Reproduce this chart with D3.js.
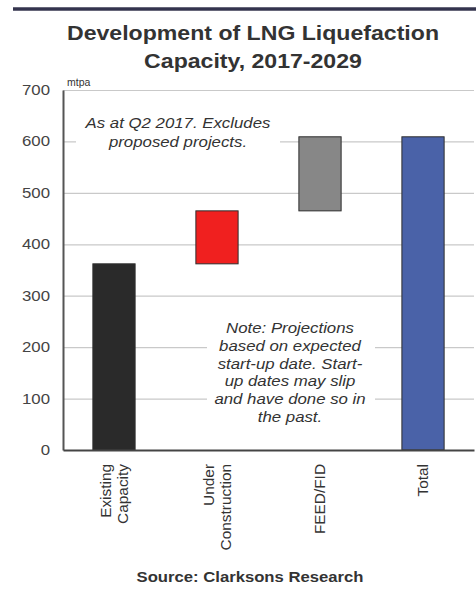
<!DOCTYPE html>
<html>
<head>
<meta charset="utf-8">
<script src="https://cdn.jsdelivr.net/npm/d3@7"></script>
<style>
  html, body { margin: 0; padding: 0; background: #ffffff; }
  svg { display: block; }
  text { font-family: "Liberation Sans", Arial, Helvetica, sans-serif; }
</style>
</head>
<body>
<svg id="chart" width="476" height="590"></svg>
<script>
// ---- data ----
const categories = ["Existing Capacity", "Under Construction", "FEED/FID", "Total"];
const labelLines = [["Existing", "Capacity"], ["Under", "Construction"], ["FEED/FID"], ["Total"]];
const barStart = [0, 362, 465, 0];
const barEnd = [362, 465, 609, 609];
const barColors = ["#2a2a2a", "#f0201f", "#878787", "#4a62a8"];
const yTicks = [0, 100, 200, 300, 400, 500, 600, 700];
const titleLines = ["Development of LNG Liquefaction", "Capacity, 2017-2029"];
const note1 = ["As at Q2 2017. Excludes", "proposed projects."];
const note2 = ["Note: Projections", "based on expected", "start-up date. Start-", "up dates may slip", "and have done so in", "the past."];
const unitLabel = "mtpa";
const sourceText = "Source: Clarksons Research";

// ---- layout ----
const svg = d3.select("#chart");
const L = 63, R = 474, T = 90, B = 450;

const y = d3.scaleLinear().domain([0, 700]).range([B, T]);
const x = d3.scaleBand().domain(categories).range([L, R]).paddingInner(0.59).paddingOuter(0.29);

// top rule
svg.append("line").attr("x1", 13).attr("x2", 476).attr("y1", 9).attr("y2", 9)
  .attr("stroke", "#34344e").attr("stroke-width", 3.5);

// title
titleLines.forEach((t, i) => {
  svg.append("text")
    .attr("transform", `translate(253,${40 + i * 28}) scale(1.1,1)`)
    .attr("text-anchor", "middle")
    .attr("font-size", 21).attr("font-weight", "bold").attr("fill", "#333")
    .text(t);
});

// gridlines
const grid = svg.append("g").attr("transform", `translate(${L},0)`)
  .call(d3.axisLeft(y).tickValues(yTicks.filter(v => v > 0)).tickSize(-(R - L)).tickFormat(""));
grid.select(".domain").remove();
grid.selectAll(".tick line").attr("stroke", "#c9c9c9").attr("stroke-width", 1.2);

// annotation background boxes
svg.append("rect").attr("x", 76).attr("y", 108).attr("width", 204).attr("height", 52).attr("fill", "#fff");
svg.append("rect").attr("x", 207).attr("y", 312).attr("width", 168).attr("height", 118).attr("fill", "#fff");

// bars
svg.append("g").selectAll("rect").data(categories).join("rect")
  .attr("x", d => x(d))
  .attr("width", x.bandwidth())
  .attr("y", (d, i) => y(barEnd[i]))
  .attr("height", (d, i) => y(barStart[i]) - y(barEnd[i]))
  .attr("fill", (d, i) => barColors[i])
  .attr("stroke", "#2e2e2e").attr("stroke-width", 1);

// y axis
const yAxis = svg.append("g").attr("transform", `translate(${L},0)`)
  .call(d3.axisLeft(y).tickValues(yTicks).tickSize(0).tickPadding(13));
yAxis.select(".domain").attr("stroke", "#555").attr("stroke-width", 2);
yAxis.selectAll(".tick text")
  .attr("font-family", "'Liberation Sans', Arial, sans-serif")
  .attr("font-size", 14).attr("fill", "#444")
  .attr("x", -13 / 1.2)
  .attr("transform", "scale(1.2,1)");

// x axis
const xAxis = svg.append("g").attr("transform", `translate(0,${B})`)
  .call(d3.axisBottom(x).tickSize(0).tickFormat(""));
xAxis.select(".domain").attr("stroke", "#444").attr("stroke-width", 2);

// x labels (rotated)
categories.forEach((c, i) => {
  const cx = x(c) + x.bandwidth() / 2;
  const lines = labelLines[i];
  const offs = lines.length === 1 ? [5] : [-3, 14];
  const t = svg.append("text")
    .attr("transform", `translate(${cx},464) rotate(-90) scale(1.1,1)`)
    .attr("text-anchor", "end")
    .attr("font-size", 14).attr("fill", "#333");
  lines.forEach((ln, j) => {
    t.append("tspan").attr("x", 0).attr("y", offs[j]).text(ln);
  });
});

// unit label
svg.append("text").attr("x", 67).attr("y", 86)
  .attr("font-size", 10.5).attr("fill", "#333").text(unitLabel);

// notes
note1.forEach((t, i) => {
  svg.append("text")
    .attr("transform", `translate(178,${128 + i * 19}) scale(1.2,1)`)
    .attr("text-anchor", "middle").attr("font-size", 14).attr("font-style", "italic")
    .attr("fill", "#333").text(t);
});
note2.forEach((t, i) => {
  svg.append("text")
    .attr("transform", `translate(290,${333 + i * 17.8}) scale(1.2,1)`)
    .attr("text-anchor", "middle").attr("font-size", 14).attr("font-style", "italic")
    .attr("fill", "#333").text(t);
});

// source
svg.append("text")
  .attr("transform", "translate(250,582) scale(1.15,1)")
  .attr("text-anchor", "middle").attr("font-size", 14.5).attr("font-weight", "bold")
  .attr("fill", "#333").text(sourceText);
</script>
</body>
</html>
